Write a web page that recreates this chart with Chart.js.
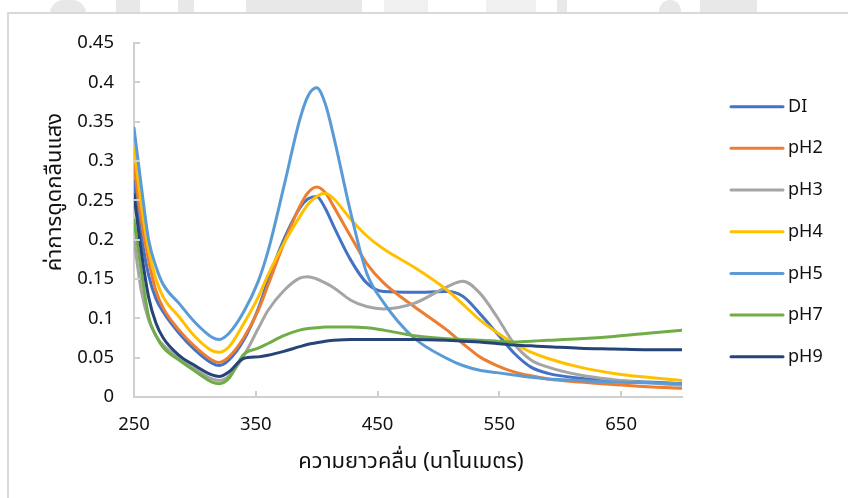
<!DOCTYPE html>
<html>
<head>
<meta charset="utf-8">
<script src="https://cdn.jsdelivr.net/npm/chart.js@4/dist/chart.umd.min.js"></script>
<style>
  html, body { margin: 0; padding: 0; background: #fff; }
  #wrap { position: relative; width: 848px; height: 498px; overflow: hidden; background: #fff; }
  .wm { position: absolute; background: #e8e8e8; }
  #frame { position: absolute; left: 7px; top: 12px; width: 900px; height: 560px;
           border-left: 2px solid #d9d9d9; border-top: 2px solid #d9d9d9; background: #fff; }
  #chart { position: absolute; left: 0; top: 0; }
</style>
</head>
<body>
<div id="wrap">
  <!-- faint background strip behind the chart frame -->
  <div class="wm" style="left:50px;top:0;width:36px;height:14px;border-radius:18px 18px 0 0;"></div>
  <div class="wm" style="left:116px;top:0;width:24px;height:14px;"></div>
  <div class="wm" style="left:178px;top:0;width:16px;height:14px;"></div>
  <div class="wm" style="left:246px;top:0;width:116px;height:14px;"></div>
  <div class="wm" style="left:384px;top:0;width:44px;height:14px;background:#f0f0f0;"></div>
  <div class="wm" style="left:486px;top:0;width:50px;height:14px;background:#f0f0f0;"></div>
  <div class="wm" style="left:557px;top:0;width:10px;height:14px;"></div>
  <div class="wm" style="left:659px;top:0;width:22px;height:14px;border-radius:11px 11px 0 0;"></div>
  <div class="wm" style="left:700px;top:0;width:57px;height:14px;"></div>
  <div id="frame"></div>
  <canvas id="chart" width="848" height="498"></canvas>
</div>
<script>
// Absorbance spectra of the extract in DI water and buffers of different pH
const WAVELENGTH = [250, 256, 262, 268, 274, 287, 300, 314, 320, 328, 340, 352, 360, 373, 386, 393, 400, 407, 414, 428, 441, 455, 480, 507, 520, 534, 548, 562, 576, 590, 616, 644, 672, 700];

const DI  = [0.275, 0.205, 0.155, 0.125, 0.108, 0.081, 0.060, 0.043, 0.040, 0.047, 0.072, 0.112, 0.148, 0.200, 0.240, 0.252, 0.255, 0.240, 0.217, 0.174, 0.145, 0.134, 0.133, 0.134, 0.128, 0.106, 0.081, 0.056, 0.038, 0.030, 0.024, 0.021, 0.019, 0.017];
const PH2 = [0.295, 0.225, 0.174, 0.135, 0.113, 0.085, 0.064, 0.047, 0.044, 0.051, 0.075, 0.110, 0.142, 0.195, 0.242, 0.260, 0.267, 0.260, 0.242, 0.204, 0.170, 0.145, 0.115, 0.085, 0.068, 0.051, 0.040, 0.032, 0.027, 0.023, 0.019, 0.016, 0.013, 0.011];
const PH3 = [0.200, 0.135, 0.098, 0.078, 0.066, 0.050, 0.036, 0.023, 0.021, 0.027, 0.052, 0.087, 0.110, 0.135, 0.151, 0.153, 0.150, 0.145, 0.139, 0.123, 0.115, 0.112, 0.119, 0.140, 0.147, 0.132, 0.102, 0.068, 0.047, 0.038, 0.028, 0.022, 0.018, 0.015];
const PH4 = [0.315, 0.245, 0.187, 0.150, 0.127, 0.102, 0.077, 0.059, 0.057, 0.064, 0.093, 0.127, 0.155, 0.195, 0.229, 0.245, 0.255, 0.259, 0.252, 0.226, 0.205, 0.188, 0.165, 0.136, 0.118, 0.098, 0.082, 0.068, 0.057, 0.049, 0.038, 0.030, 0.025, 0.021];
const PH5 = [0.342, 0.268, 0.200, 0.166, 0.143, 0.119, 0.095, 0.076, 0.073, 0.081, 0.108, 0.147, 0.185, 0.267, 0.352, 0.383, 0.393, 0.373, 0.331, 0.234, 0.158, 0.120, 0.075, 0.049, 0.040, 0.034, 0.031, 0.028, 0.025, 0.023, 0.021, 0.019, 0.018, 0.017];
const PH7 = [0.225, 0.160, 0.102, 0.078, 0.063, 0.047, 0.033, 0.019, 0.017, 0.024, 0.054, 0.062, 0.068, 0.078, 0.085, 0.087, 0.088, 0.089, 0.089, 0.089, 0.088, 0.085, 0.078, 0.074, 0.073, 0.072, 0.071, 0.070, 0.071, 0.072, 0.074, 0.077, 0.081, 0.085];
const PH9 = [0.257, 0.185, 0.127, 0.094, 0.075, 0.053, 0.040, 0.028, 0.026, 0.032, 0.049, 0.051, 0.053, 0.058, 0.064, 0.067, 0.069, 0.071, 0.072, 0.073, 0.073, 0.073, 0.073, 0.072, 0.071, 0.070, 0.068, 0.066, 0.065, 0.064, 0.062, 0.061, 0.060, 0.060];

const SERIES_LABELS = ['DI', 'pH2', 'pH3', 'pH4', 'pH5', 'pH7', 'pH9'];
const SERIES_VALUES = [DI, PH2, PH3, PH4, PH5, PH7, PH9];
const SERIES_COLORS = ['#4472C4', '#ED7D31', '#A5A5A5', '#FFC000', '#5B9BD5', '#70AD47', '#264478'];

const X_TICKS = [250, 350, 450, 550, 650];
const X_TITLE = 'ความยาวคลื่น (นาโนเมตร)';
const Y_TITLE = 'ค่าการดูดกลืนแสง';

const FONT = '"Noto Sans", "Noto Sans Thai", "DejaVu Sans", sans-serif';
const AXIS_COLOR = '#cfcfcf';
const TEXT_COLOR = '#111111';

const datasets = SERIES_LABELS.map((label, i) => ({
  label,
  data: WAVELENGTH.map((w, j) => ({ x: w, y: SERIES_VALUES[i][j] })),
  borderColor: SERIES_COLORS[i],
  backgroundColor: SERIES_COLORS[i],
  borderWidth: 3,
  pointRadius: 0,
  cubicInterpolationMode: 'monotone',
  borderCapStyle: 'round',
  borderJoinStyle: 'round',
  fill: false,
  order: -i
}));

// short tick marks pointing into the plot area
const innerTicks = {
  id: 'innerTicks',
  afterDraw(chart) {
    const { ctx, chartArea, scales } = chart;
    ctx.save();
    ctx.strokeStyle = AXIS_COLOR;
    ctx.lineWidth = 2;
    ctx.beginPath();
    scales.x.ticks.forEach(t => {
      const px = Math.round(scales.x.getPixelForValue(t.value));
      ctx.moveTo(px, chartArea.bottom);
      ctx.lineTo(px, chartArea.bottom - 6);
    });
    scales.y.ticks.forEach(t => {
      const py = Math.round(scales.y.getPixelForValue(t.value));
      ctx.moveTo(chartArea.left, py);
      ctx.lineTo(chartArea.left + 6, py);
    });
    ctx.stroke();
    ctx.restore();
  }
};

// legend at the right and the two axis titles
const annotations = {
  id: 'annotations',
  afterDraw(chart) {
    const { ctx } = chart;
    ctx.save();
    chart.data.datasets.forEach((ds, i) => {
      const y = 106.7 + i * 41.67;
      ctx.strokeStyle = ds.borderColor;
      ctx.lineWidth = 3;
      ctx.lineCap = 'round';
      ctx.beginPath();
      ctx.moveTo(731, y);
      ctx.lineTo(783, y);
      ctx.stroke();
      ctx.fillStyle = TEXT_COLOR;
      ctx.font = '18px ' + FONT;
      ctx.textAlign = 'left';
      ctx.textBaseline = 'middle';
      ctx.fillText(ds.label, 788, y);
    });
    ctx.fillStyle = TEXT_COLOR;
    ctx.font = '22px ' + FONT;
    ctx.textAlign = 'center';
    ctx.textBaseline = 'middle';
    ctx.fillText(X_TITLE, 411, 462);
    ctx.translate(55, 192);
    ctx.rotate(-Math.PI / 2);
    ctx.fillText(Y_TITLE, 0, 0);
    ctx.restore();
  }
};

new Chart(document.getElementById('chart'), {
  type: 'line',
  data: { datasets },
  options: {
    responsive: false,
    animation: false,
    devicePixelRatio: 1,
    layout: { padding: { left: 0, top: 43, right: 166, bottom: 0 } },
    plugins: { legend: { display: false }, tooltip: { enabled: false } },
    scales: {
      x: {
        type: 'linear',
        min: 250,
        max: 700,
        afterBuildTicks: s => { s.ticks = X_TICKS.map(v => ({ value: v })); },
        afterFit: s => { s.height = 101; },
        grid: { drawOnChartArea: false, drawTicks: false },
        border: { color: AXIS_COLOR, width: 2 },
        ticks: { padding: 17, color: TEXT_COLOR, font: { family: FONT, size: 18.5 }, maxRotation: 0 }
      },
      y: {
        min: 0,
        max: 0.45,
        afterFit: s => { s.width = 134; },
        grid: { drawOnChartArea: false, drawTicks: false },
        border: { color: AXIS_COLOR, width: 2 },
        ticks: {
          stepSize: 0.05,
          padding: 20,
          color: TEXT_COLOR,
          font: { family: FONT, size: 18.5 },
          callback: v => String(parseFloat(v.toFixed(2)))
        }
      }
    }
  },
  plugins: [innerTicks, annotations]
});
</script>
</body>
</html>
